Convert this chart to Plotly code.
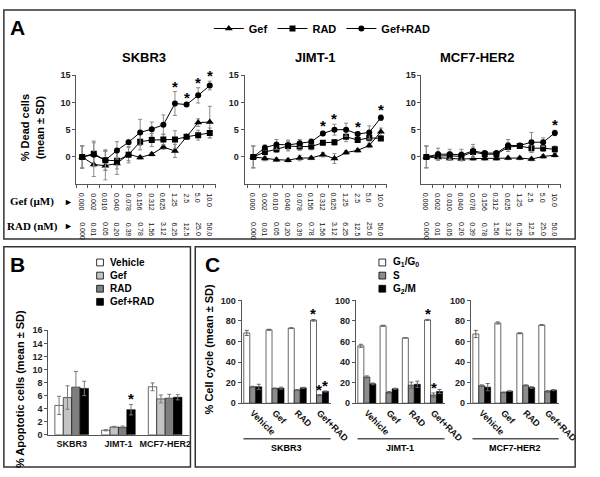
import plotly.graph_objects as go

W, H = 600, 477
def X(px): return px / W
def Y(py): return 1 - py / H

SANS = "Liberation Sans, Arial, sans-serif"
SERIF = "Liberation Serif, Times New Roman, serif"

# ---------------- Panel A data ----------------
gef_doses = ["0.000", "0.002", "0.010", "0.040", "0.078", "0.156", "0.312", "0.625", "1.25", "2.5", "5.0", "10.0"]
rad_doses = ["0.000", "0.01", "0.05", "0.20", "0.39", "0.78", "1.56", "3.12", "6.25", "12.5", "25.0", "50.0"]
dose_idx = list(range(12))

skbr3_gef = [0, -1.4, -1.6, -1.2, 0.5, -0.1, 0.5, 1.8, 1.1, 3.7, 6.3, 6.4]
skbr3_gef_sd = [2.0, 2.2, 2.6, 2.0, 1.2, 0.3, 0.3, 0.4, 1.2, 0.4, 0.7, 2.9]
skbr3_rad = [0, 0.6, -0.6, -0.7, 0.4, 2.8, 3.1, 3.2, 3.2, 3.7, 4.0, 4.4]
skbr3_rad_sd = [2.1, 2.3, 1.9, 1.5, 1.5, 1.5, 1.2, 1.0, 1.6, 0.4, 0.9, 0.9]
skbr3_comb = [0, 0.4, -0.6, 1.2, 2.7, 4.5, 5.1, 5.9, 9.8, 9.6, 11.3, 13.1]
skbr3_comb_sd = [2.0, 2.2, 1.8, 1.6, 0.4, 2.4, 1.3, 1.8, 2.2, 0.3, 1.4, 0.8]

jimt_gef = [0, -0.3, -0.5, -0.6, -0.2, -0.2, 0.4, -0.3, 0.8, 1.2, 2.1, 4.6]
jimt_gef_sd = [2.0, 0.4, 0.3, 0.3, 0.5, 0.3, 0.4, 0.9, 0.3, 0.3, 0.4, 0.7]
jimt_rad = [0, 0.9, 1.4, 2.0, 1.9, 1.9, 2.6, 2.7, 3.7, 3.1, 3.5, 3.4]
jimt_rad_sd = [2.0, 0.5, 0.6, 0.9, 0.7, 0.6, 0.4, 0.5, 0.9, 0.4, 0.6, 0.3]
jimt_comb = [0, 1.7, 2.3, 2.2, 2.5, 2.8, 4.3, 5.0, 5.0, 4.2, 4.5, 7.2]
jimt_comb_sd = [2.0, 0.5, 0.9, 0.9, 0.7, 0.5, 0.4, 1.0, 1.2, 0.4, 1.2, 0.5]

mcf7_gef = [0, -0.1, -0.3, -0.4, -0.3, -0.3, -0.3, -0.2, -0.2, -0.4, 0.1, 0.3]
mcf7_gef_sd = [2.0, 0.3, 0.3, 0.3, 0.3, 0.3, 0.3, 0.3, 0.3, 0.3, 0.3, 0.3]
mcf7_rad = [0, 0.2, 0.2, 0.1, 0.9, 0.5, 0.5, 1.8, 2.0, 1.6, 1.6, 1.4]
mcf7_rad_sd = [2.0, 0.8, 0.7, 0.8, 0.9, 0.4, 0.4, 0.8, 0.4, 0.8, 0.6, 0.6]
mcf7_comb = [0, 0.5, 0.5, 0.4, 1.1, 0.7, 0.7, 2.1, 2.1, 2.7, 2.7, 4.4]
mcf7_comb_sd = [2.0, 1.1, 0.9, 1.0, 1.2, 0.3, 0.3, 1.1, 0.4, 1.8, 0.8, 0.5]

a_stars = {"SKBR3": [8, 9, 10, 11], "JIMT-1": [6, 7, 9, 11], "MCF7-HER2": [11]}

# ---------------- Panel B data ----------------
b_cells = ["SKBR3", "JIMT-1", "MCF7-HER2"]
b_vehicle = [4.5, 0.7, 7.35]
b_vehicle_sd = [1.4, 0.1, 0.6]
b_gef = [5.7, 1.2, 5.5]
b_gef_sd = [1.8, 0.1, 0.6]
b_rad = [7.3, 1.15, 5.6]
b_rad_sd = [2.4, 0.2, 0.6]
b_comb = [7.1, 3.85, 5.75]
b_comb_sd = [1.1, 0.8, 0.4]

# ---------------- Panel C data ----------------
c_treat = ["Vehicle", "Gef", "RAD", "Gef+RAD"]
skbr3_g1 = [68.3, 71.4, 73.0, 80.6]
skbr3_g1_sd = [2.5, 0.5, 0.3, 0.8]
skbr3_s = [15.9, 14.3, 12.7, 7.9]
skbr3_s_sd = [0.5, 0.5, 0.5, 0.5]
skbr3_g2 = [15.9, 14.6, 14.9, 11.4]
skbr3_g2_sd = [2.5, 1.0, 0.5, 0.5]
jimt_g1 = [55.8, 75.3, 63.5, 81.0]
jimt_g1_sd = [1.5, 0.5, 0.0, 0.5]
jimt_s = [25.5, 10.4, 17.5, 7.9]
jimt_s_sd = [1.0, 1.0, 3.0, 2.0]
jimt_g2 = [18.8, 14.0, 18.4, 11.4]
jimt_g2_sd = [0.8, 0.5, 3.0, 2.0]
mcf7_g1 = [67.3, 78.0, 68.0, 76.0]
mcf7_g1_sd = [3.5, 1.0, 0.5, 0.3]
mcf7_s = [17.0, 10.4, 17.3, 11.4]
mcf7_s_sd = [0.8, 0.5, 0.5, 0.8]
mcf7_g2 = [15.6, 11.7, 15.2, 12.7]
mcf7_g2_sd = [3.5, 0.3, 0.8, 0.5]
c_stars = {"SKBR3": [(3, 0), (3, 1), (3, 2)], "JIMT-1": [(3, 0), (3, 1)], "MCF7-HER2": []}

fig = go.Figure()

# ---------------- Panel A traces ----------------
a_sets = [
    ("SKBR3", "x", "y", [(skbr3_gef, skbr3_gef_sd), (skbr3_rad, skbr3_rad_sd), (skbr3_comb, skbr3_comb_sd)]),
    ("JIMT-1", "x2", "y2", [(jimt_gef, jimt_gef_sd), (jimt_rad, jimt_rad_sd), (jimt_comb, jimt_comb_sd)]),
    ("MCF7-HER2", "x3", "y3", [(mcf7_gef, mcf7_gef_sd), (mcf7_rad, mcf7_rad_sd), (mcf7_comb, mcf7_comb_sd)]),
]
series_names = ["Gef", "RAD", "Gef+RAD"]
symbols = ["triangle-up", "square", "circle"]
sizes = [7, 6, 6]
for k, (cell, xa, ya, sets) in enumerate(a_sets):
    for j, (vals, sds) in enumerate(sets):
        fig.add_trace(go.Scatter(
            x=dose_idx, y=vals, xaxis=xa, yaxis=ya, mode="lines+markers",
            name=series_names[j], legendgroup=series_names[j], showlegend=(k == 0),
            legend="legend",
            line=dict(color="black", width=1),
            marker=dict(symbol=symbols[j], size=sizes[j], color="black"),
            error_y=dict(type="data", array=sds, color="#8a8a8a", thickness=1, width=2),
        ))

# ---------------- Panel B traces ----------------
b_series = [("Vehicle", b_vehicle, b_vehicle_sd, "white"),
            ("Gef", b_gef, b_gef_sd, "#c4c4c4"),
            ("RAD", b_rad, b_rad_sd, "#7f7f7f"),
            ("Gef+RAD", b_comb, b_comb_sd, "black")]
bw = 0.18
for j, (nm, vals, sds, col) in enumerate(b_series):
    fig.add_trace(go.Bar(
        x=list(range(len(b_cells))), y=vals, xaxis="x4", yaxis="y4", name=nm,
        showlegend=False, width=bw, offset=-2 * bw + j * bw,
        marker=dict(color=col, line=dict(color="black", width=0.6)),
        error_y=dict(type="data", array=sds, color="#7a7a7a", thickness=1, width=2),
    ))

# ---------------- Panel C traces ----------------
c_sets = [
    ("SKBR3", "x5", "y5", [(skbr3_g1, skbr3_g1_sd), (skbr3_s, skbr3_s_sd), (skbr3_g2, skbr3_g2_sd)]),
    ("JIMT-1", "x6", "y6", [(jimt_g1, jimt_g1_sd), (jimt_s, jimt_s_sd), (jimt_g2, jimt_g2_sd)]),
    ("MCF7-HER2", "x7", "y7", [(mcf7_g1, mcf7_g1_sd), (mcf7_s, mcf7_s_sd), (mcf7_g2, mcf7_g2_sd)]),
]
phase_names = ["G<sub>1</sub>/G<sub>0</sub>", "S", "G<sub>2</sub>/M"]
phase_cols = ["white", "#8c8c8c", "black"]
cw = 0.27
for k, (cell, xa, ya, sets) in enumerate(c_sets):
    for j, (vals, sds) in enumerate(sets):
        fig.add_trace(go.Bar(
            x=list(range(len(c_treat))), y=vals, xaxis=xa, yaxis=ya, name=phase_names[j],
            showlegend=False, width=cw, offset=-1.5 * cw + j * cw,
            marker=dict(color=phase_cols[j], line=dict(color="black", width=0.6)),
            error_y=dict(type="data", array=sds, color="#666666", thickness=1, width=2),
        ))

# ---------------- Axes ----------------
axis_line = "#555555"
tickfont = dict(family=SANS, size=9, color="#222", weight="bold")
layout_axes = {}
a_dom = {"x": (79, 223, -0.5), "x2": (253, 400, -0.75), "x3": (436, 580, -0.42)}
for xa, (p0, p1, r0) in a_dom.items():
    sfx = "" if xa == "x" else xa[1:]
    layout_axes["xaxis" + sfx] = dict(
        domain=[X(p0), X(p1)], range=[r0, 11.5], anchor="y" + sfx,
        showline=True, linecolor=axis_line, linewidth=1, showgrid=False, zeroline=False,
        tickvals=[v + 0.5 for v in range(-1, 12)], showticklabels=False,
        ticks="outside", ticklen=3, tickcolor=axis_line,
    )
    layout_axes["yaxis" + sfx] = dict(
        domain=[Y(183), Y(71.7)], range=[-5, 15], anchor="x" + sfx,
        showline=True, linecolor=axis_line, linewidth=1, showgrid=False, zeroline=False,
        tickvals=[0, 5, 10, 15], ticks="outside", ticklen=3, tickcolor=axis_line,
        tickfont=tickfont,
    )

layout_axes["xaxis4"] = dict(
    domain=[X(50), X(195)], range=[-0.5, 2.5], anchor="y4",
    showline=True, linecolor=axis_line, showgrid=False, zeroline=False,
    tickvals=list(range(len(b_cells))), ticktext=b_cells, tickangle=0,
    tickfont=dict(family=SANS, size=9, color="#111", weight="bold"), ticks="",
)
layout_axes["yaxis4"] = dict(
    domain=[Y(439), Y(332.3)], range=[0, 16], anchor="x4",
    showline=True, linecolor=axis_line, showgrid=False, zeroline=False,
    tickvals=list(range(0, 17, 2)), ticks="outside", ticklen=3, tickcolor=axis_line,
    tickfont=tickfont,
)
c_dom = {"5": (250, 342), "6": (368, 460), "7": (487, 578)}
for sfx, (p0, p1) in c_dom.items():
    layout_axes["xaxis" + sfx] = dict(
        domain=[X(p0), X(p1)], range=[-0.5, 3.5], anchor="y" + sfx,
        showline=True, linecolor=axis_line, showgrid=False, zeroline=False,
        tickvals=list(range(len(c_treat))), ticktext=c_treat, tickangle=45,
        tickfont=dict(family=SANS, size=9, color="#111", weight="bold"), ticks="",
    )
    layout_axes["yaxis" + sfx] = dict(
        domain=[Y(406.7), Y(301.7)], range=[0, 100], anchor="x" + sfx,
        showline=True, linecolor=axis_line, showgrid=False, zeroline=False,
        tickvals=list(range(0, 101, 20)), ticks="outside", ticklen=3, tickcolor=axis_line,
        tickfont=tickfont,
    )

# ---------------- Annotations ----------------
ann = []
def txt(x, y, s, size, bold=True, family=SANS, **kw):
    d = dict(x=x, y=y, xref="paper", yref="paper", text=s, showarrow=False,
             xanchor="center", yanchor="middle",
             font=dict(family=family, size=size, color="black", weight="bold" if bold else "normal"))
    d.update(kw)
    ann.append(d)

txt(X(18), Y(23), "A", 21)
txt(X(18), Y(265), "B", 21)
txt(X(220), Y(265), "C", 21)
for cell, xc in zip(["SKBR3", "JIMT-1", "MCF7-HER2"], [149, 326, 493]):
    txt(X(xc), Y(54), cell, 13)
txt(X(34), Y(125), "% Dead cells<br>(mean ± SD)", 11, textangle=-90)
txt(X(20), Y(392), "% Apoptotic cells (mean ± SD)", 11, textangle=-90)
txt(X(216), Y(352), "% Cell cycle (mean ± SD)", 11, textangle=-90)
txt(X(33), Y(201), "Gef (µM)", 11, family=SERIF)
txt(X(71), Y(201), "►", 9)
txt(X(34), Y(226), "RAD (nM)", 11, family=SERIF)
txt(X(71), Y(226), "►", 9)

for xa in ["x", "x2", "x3"]:
    for i in dose_idx:
        ann.append(dict(x=i, y=Y(190), xref=xa, yref="paper", text=gef_doses[i], showarrow=False,
                        textangle=90, xanchor="center", yanchor="top",
                        font=dict(family=SANS, size=7, color="#111")))
        ann.append(dict(x=i, y=Y(220), xref=xa, yref="paper", text=rad_doses[i], showarrow=False,
                        textangle=90, xanchor="center", yanchor="top",
                        font=dict(family=SANS, size=7, color="#111")))

star_font = dict(family=SANS, size=15, color="black", weight="bold")
def star(x, y, xa, ya):
    ann.append(dict(x=x, y=y, xref=xa, yref=ya, text="*", showarrow=False,
                    xanchor="center", yanchor="bottom", yshift=-5, font=star_font))

for cell, xa, ya, sets in a_sets:
    vals, sds = sets[2]
    for i in a_stars[cell]:
        star(i, vals[i] + sds[i], xa, ya)

star(1 + bw * 1.5, b_comb[1] + b_comb_sd[1], "x4", "y4")

for cell, xa, ya, sets in c_sets:
    for (ti, pj) in c_stars[cell]:
        vals, sds = sets[pj]
        star(ti - cw + pj * cw, vals[ti] + sds[ti], xa, ya)

for cell, sfx in zip(["SKBR3", "JIMT-1", "MCF7-HER2"], ["5", "6", "7"]):
    ann.append(dict(x=0.5, y=Y(452), xref="x%s domain" % sfx, yref="paper", text=cell, showarrow=False,
                    xanchor="center", yanchor="middle",
                    font=dict(family=SANS, size=9, color="black", weight="bold")))

# ---------------- Shapes (panel frames, brackets, legend keys) ----------------
shapes = []
box_col = "#333333"
for (x0, y0, x1, y1) in [(4, 5, 595, 239), (4, 247, 197, 472), (202, 247, 595, 472)]:
    shapes.append(dict(type="rect", xref="paper", yref="paper", x0=X(x0), x1=X(x1), y0=Y(y1), y1=Y(y0),
                       line=dict(color=box_col, width=1.5)))
for sfx in ["5", "6", "7"]:
    shapes.append(dict(type="line", xref="x%s domain" % sfx, yref="paper", x0=0.02, x1=1.0,
                       y0=Y(443), y1=Y(443), line=dict(color="#555", width=1.5)))

legend_font = dict(family=SANS, size=10, color="black", weight="bold")
def key_list(items, x_sq, y_top, step):
    for n, (label, col) in enumerate(items):
        yc = y_top + n * step
        shapes.append(dict(type="rect", xref="paper", yref="paper",
                           x0=X(x_sq), x1=X(x_sq + 7), y0=Y(yc + 3.5), y1=Y(yc - 3.5),
                           fillcolor=col, line=dict(color="black", width=0.8)))
        ann.append(dict(x=X(x_sq + 12), y=Y(yc), xref="paper", yref="paper", text=label,
                        showarrow=False, xanchor="left", yanchor="middle", font=legend_font))

key_list([(s[0], s[3]) for s in b_series], 100, 263, 13.4)
key_list(list(zip(phase_names, phase_cols)), 392, 263, 13.4)

fig.update_layout(
    width=W, height=H, margin=dict(l=0, r=0, t=0, b=0),
    paper_bgcolor="white", plot_bgcolor="white", barmode="overlay",
    font=dict(family=SANS, size=10, color="black"),
    annotations=ann, shapes=shapes,
    legend=dict(orientation="h", x=X(216), y=Y(24), xanchor="left", yanchor="middle",
                font=dict(family=SANS, size=11, color="black", weight="bold"),
                bgcolor="rgba(0,0,0,0)", itemwidth=30),
    **layout_axes,
)

fig.write_html("out.html", config={"displayModeBar": False},
               post_script="document.body.style.margin='0';document.body.style.overflow='hidden';")
